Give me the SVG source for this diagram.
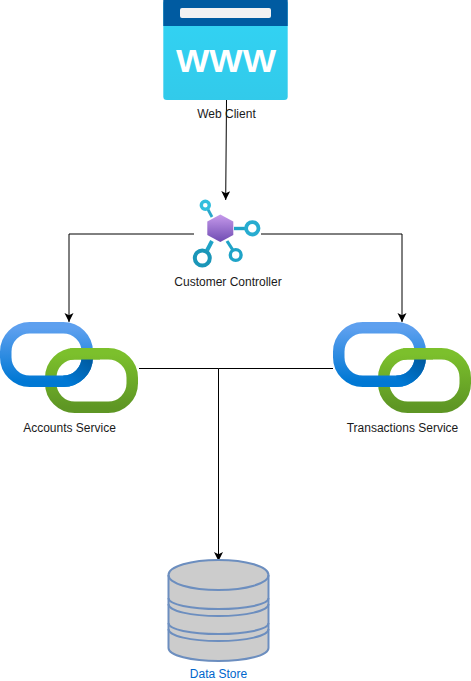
<svg xmlns="http://www.w3.org/2000/svg" xmlns:xlink="http://www.w3.org/1999/xlink" width="471" height="681" viewBox="0 0 471 681">
<style>
text{font-family:"Liberation Sans",Arial,sans-serif;font-size:12px;text-anchor:middle;fill:#1a1a1a}
.c{fill:none;stroke:#000;stroke-width:1}
.blue{fill:none;stroke:url(#gb);stroke-width:11.500}
.green{fill:none;stroke:url(#gg);stroke-width:11.500}
.db{fill:#cccccc;stroke:#6c8ebf;stroke-width:2}
.dbl{fill:none;stroke:#6c8ebf;stroke-width:2}
.ring{fill:none;stroke:#1fa3c7;stroke-width:3.400}
.arm{fill:none;stroke:#1fa3c7}
</style>
<defs>
<linearGradient id="gb" x1="0" y1="0" x2="0" y2="1"><stop offset="0" stop-color="#5ea0ef"/><stop offset="1" stop-color="#0078d4"/></linearGradient>
<linearGradient id="gg" x1="0" y1="0" x2="0" y2="1"><stop offset="0" stop-color="#7cc02c"/><stop offset="1" stop-color="#5e9624"/></linearGradient>
<linearGradient id="gh" x1="0" y1="0" x2="0" y2="1"><stop offset="0" stop-color="#c69aeb"/><stop offset="1" stop-color="#6f4bb2"/></linearGradient>
<linearGradient id="gs" x1="0" y1="0" x2="0" y2="1"><stop offset="0" stop-color="#32d4f5"/><stop offset="1" stop-color="#32caea"/></linearGradient>
<linearGradient id="gd" gradientUnits="userSpaceOnUse" x1="90" y1="360" x2="70" y2="384"><stop offset="0" stop-color="#005ba1"/><stop offset="1" stop-color="#0078d4"/></linearGradient>
<marker id="arrow" markerUnits="userSpaceOnUse" markerWidth="10" markerHeight="10" refX="9" refY="4.500" orient="auto"><path d="M0 0L9 4.500L0 9L2.200 4.500Z" fill="#000"/></marker>
<clipPath id="over"><rect x="70" y="340" width="30" height="20"/></clipPath>
<g id="links">
<rect class="green" x="50.750" y="353.750" width="81.500" height="53.500" rx="24"/>
<rect class="blue" x="5.750" y="327.750" width="81.500" height="53.500" rx="24"/>
<path d="M87.250 360V357.200C87.250 370.500 76.500 381.250 63.250 381.250" fill="none" stroke="url(#gd)" stroke-width="11.500"/>
<rect class="green" x="50.750" y="353.750" width="81.500" height="53.500" rx="24" clip-path="url(#over)"/>
</g>
</defs>
<g id="connectors">
<path class="c" d="M226.500 100L225.700 200" marker-end="url(#arrow)"/>
<path class="c" d="M194 234H69V322" marker-end="url(#arrow)"/>
<path class="c" d="M261 234H402V322" marker-end="url(#arrow)"/>
<path class="c" d="M139 368.500H218.500V561" marker-end="url(#arrow)"/>
<path class="c" d="M333 368.500H218.500"/>
</g>
<g id="web-client">
<rect x="163.300" y="0" width="124.400" height="100" rx="3.500" fill="url(#gs)"/>
<path d="M163.300 0H287.700V26H163.300Z" fill="#005ba1"/>
<rect x="180" y="8" width="91" height="10" rx="2" fill="#f2f2f2"/>
<text transform="translate(226 72) scale(1.140 1)" style="font-size:31px;font-weight:bold;fill:#fff">WWW</text>
<text x="226.500" y="118">Web Client</text>
</g>
<g id="customer-controller">
<path d="M220.300 214.500L233.300 221.500V235L220.300 242L207.300 235V221.500Z" fill="url(#gh)"/>
<path class="arm" d="M234 228.500H245" stroke-width="3.400"/>
<path class="arm" d="M208 209.500L212 217" stroke-width="2.800" style="stroke:#2aa8cb"/>
<path class="arm" d="M212 241L207 250.500" stroke-width="4"/>
<path class="arm" d="M227 241L232.500 249.500" stroke-width="3.200"/>
<circle class="ring" cx="205.300" cy="205.300" r="4" style="stroke:#32bedd"/>
<circle class="ring" cx="252.300" cy="228.300" r="6.200" style="stroke:#27acd0;stroke-width:3.800"/>
<circle class="ring" cx="202.300" cy="258" r="7.500" style="stroke:#1a96b8;stroke-width:4"/>
<circle class="ring" cx="235.700" cy="255" r="5.400"/>
<text x="228" y="286">Customer Controller</text>
</g>
<g id="accounts-service">
<use xlink:href="#links"/>
<text x="69.500" y="432">Accounts Service</text>
</g>
<g id="transactions-service">
<use xlink:href="#links" x="333"/>
<text x="402.500" y="432">Transactions Service</text>
</g>
<g id="data-store">
<path class="db" d="M168.500 575C168.500 566.500 191 560 218.500 560S268.500 566.500 268.500 575V648C268.500 655.500 246 661 218.500 661S168.500 655.500 168.500 648Z"/>
<path class="dbl" d="M168.500 575C168.500 583.500 191 590 218.500 590S268.500 583.500 268.500 575"/>
<path class="dbl" d="M168.500 598C168.500 604.500 191 609 218.500 609S268.500 604.500 268.500 598"/>
<path class="dbl" d="M168.500 604C168.500 611 191 616 218.500 616S268.500 611 268.500 604"/>
<path class="dbl" d="M168.500 623C168.500 629.500 191 634 218.500 634S268.500 629.500 268.500 623"/>
<path class="dbl" d="M168.500 629C168.500 636 191 641 218.500 641S268.500 636 268.500 629"/>
<text x="218.500" y="678" style="fill:#0066cc">Data Store</text>
</g>
</svg>
